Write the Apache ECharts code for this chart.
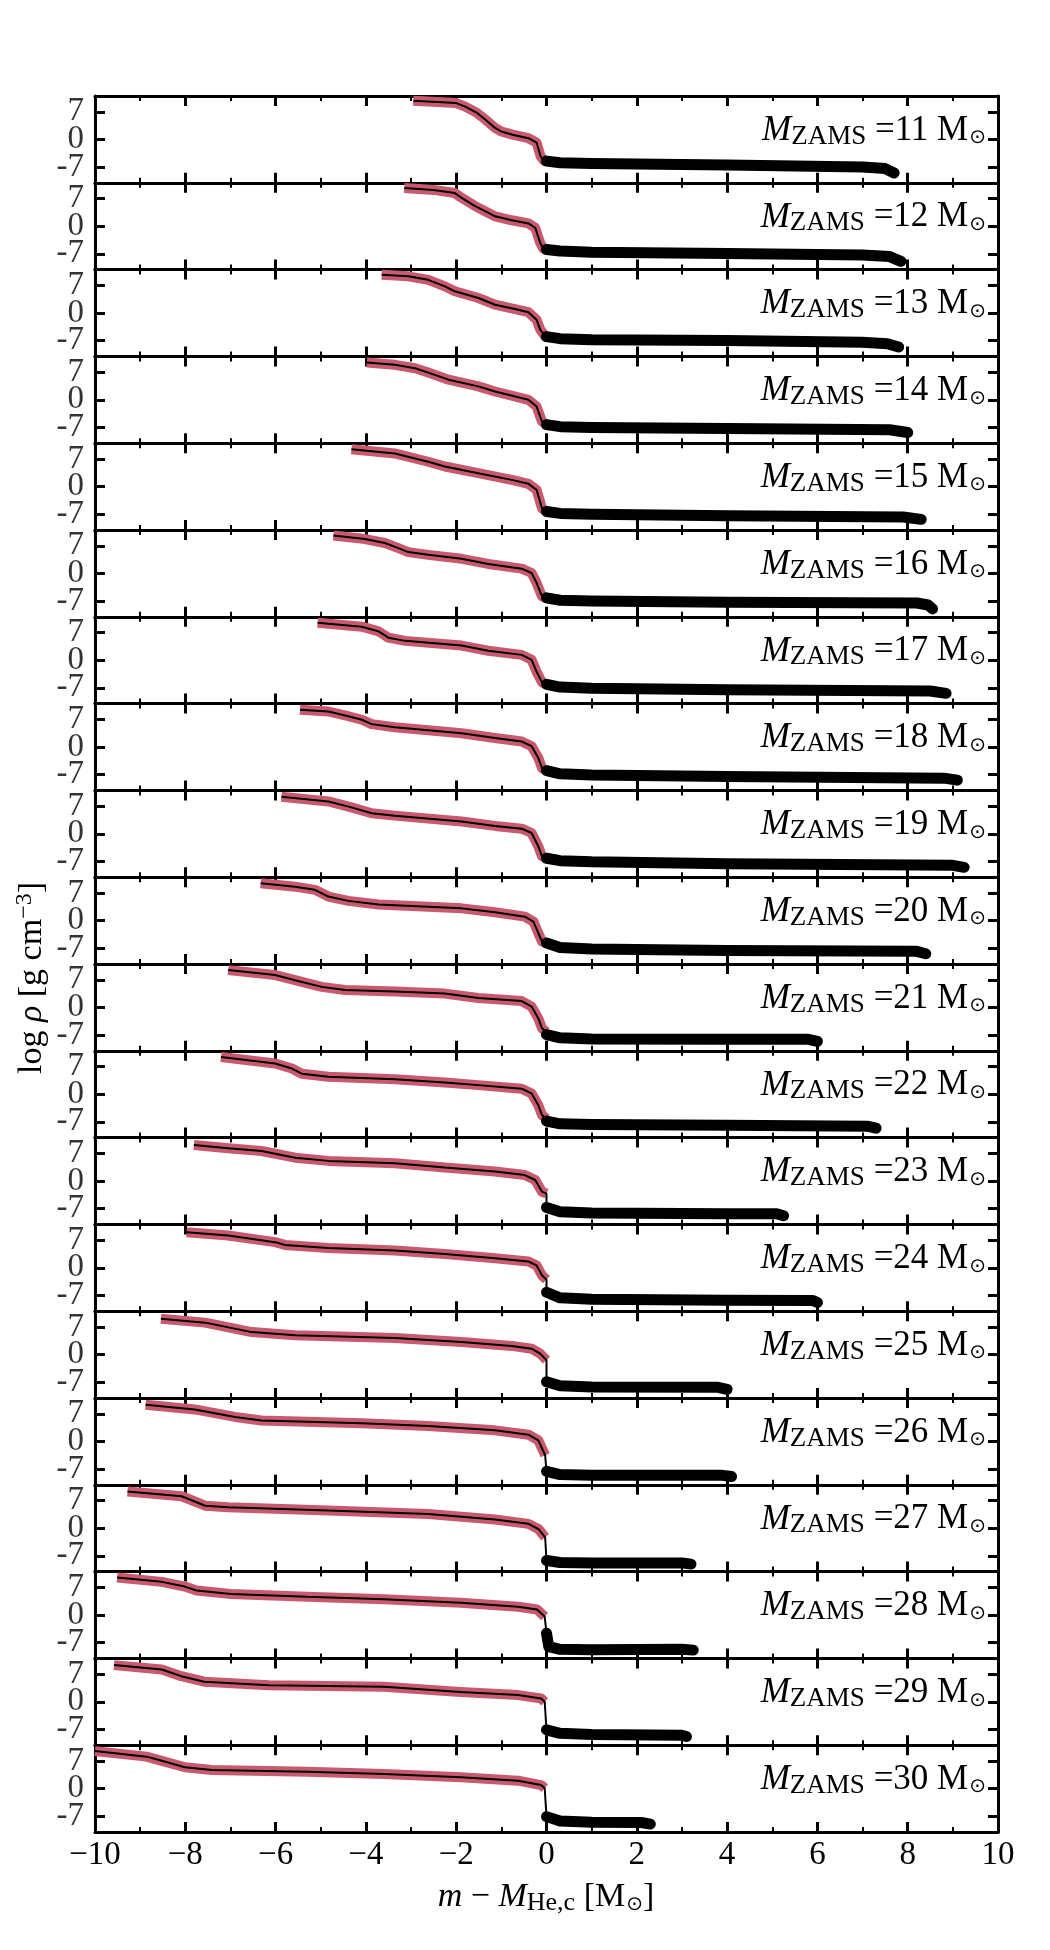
<!DOCTYPE html>
<html>
<head>
<meta charset="utf-8">
<style>
html, body { margin: 0; padding: 0; background: #fff; }
#main { width: 1050px; height: 1950px; }
</style>
<script src="https://cdn.jsdelivr.net/npm/echarts@6/dist/echarts.min.js"></script>
</head>
<body>
<div id="main"></div>
<script>
// ZAMS masses, one panel each
var massList = [11, 12, 13, 14, 15, 16, 17, 18, 19, 20, 21, 22, 23, 24, 25, 26, 27, 28, 29, 30];
var xTickValues = [-10, -8, -6, -4, -2, 0, 2, 4, 6, 8, 10];
var xTickLabels = ['\u221210', '\u22128', '\u22126', '\u22124', '\u22122', '0', '2', '4', '6', '8', '10'];
// y scale steps of one panel (bottom to top), ticks only at -7, 0, 7
var yScaleSteps = ['-11', '-10', '-9', '-8', '-7', '-6', '-5', '-4', '-3', '-2', '-1', '0',
                   '1', '2', '3', '4', '5', '6', '7', '8', '9', '10', '11'];
var yTickValues = [-7, 0, 7];
var yTickLabels = ['-7', '0', '7'];

// [m - M_He,c, log rho] : core (red) and envelope (thick black)
var core11 = [[-2.95,9.8],[-2.0,9.2],[-1.8,8.3],[-1.55,6.8],[-1.35,5.0],[-1.15,3.0],[-1.0,2.0],[-0.75,1.2],[-0.4,0.3],[-0.22,-0.8],[-0.13,-4.3],[-0.05,-5.4],[0,-5.5]];
var env11 = [[0,-5.5],[0.3,-5.9],[1,-6.1],[4,-6.5],[7,-7.0],[7.5,-7.4],[7.7,-8.5]];
var core12 = [[-3.15,9.7],[-2.5,9.2],[-2.03,8.4],[-1.88,7.2],[-1.58,5.1],[-1.36,3.8],[-1.14,2.5],[-0.77,1.5],[-0.4,0.7],[-0.25,-0.4],[-0.14,-4.2],[-0.07,-5.7],[0,-5.9]];
var env12 = [[0,-5.9],[0.3,-6.3],[1,-6.6],[4,-6.9],[7,-7.3],[7.6,-7.7],[7.85,-8.9]];
var core13 = [[-3.65,9.7],[-3.06,9.3],[-2.62,8.4],[-2.25,6.75],[-2.03,5.5],[-1.51,3.8],[-1.14,2.1],[-0.7,1.0],[-0.4,0.2],[-0.22,-1.7],[-0.14,-4.2],[-0.03,-5.9],[0,-6.0]];
var env13 = [[0,-6.0],[0.3,-6.5],[1,-6.8],[4,-7.0],[7,-7.4],[7.55,-7.8],[7.8,-8.6]];
var core14 = [[-3.98,9.45],[-3.36,8.86],[-2.91,8.0],[-2.62,6.9],[-2.17,5.1],[-1.51,3.4],[-1.14,2.1],[-0.4,0],[-0.22,-1.7],[-0.1,-5.5],[0,-6.3]];
var env14 = [[0,-6.3],[0.3,-6.8],[1,-7.0],[4,-7.3],[7.6,-7.6],[8.0,-8.3]];
var core15 = [[-4.32,9.45],[-3.36,8.4],[-2.62,6.3],[-2.25,5.1],[-1.51,3.4],[-0.77,1.7],[-0.4,0.7],[-0.22,-0.8],[-0.1,-5.5],[0,-6.3]];
var env15 = [[0,-6.3],[0.3,-6.8],[1,-7.0],[4,-7.4],[7.9,-7.7],[8.3,-8.3]];
var core16 = [[-4.72,9.6],[-4.02,8.7],[-3.58,7.7],[-3.28,6.4],[-3.06,5.4],[-2.62,4.7],[-1.88,3.7],[-1.29,2.4],[-0.55,1.2],[-0.33,0.1],[-0.22,-2.4],[-0.1,-5.8],[0,-6.2]];
var env16 = [[0,-6.2],[0.3,-6.8],[1,-7.0],[4,-7.3],[8.2,-7.5],[8.45,-8.0],[8.55,-9.0]];
var core17 = [[-5.07,9.5],[-4.09,8.5],[-3.72,7.3],[-3.5,5.7],[-3.13,4.9],[-1.88,3.7],[-1.29,2.4],[-0.55,1.35],[-0.33,0.1],[-0.22,-2.9],[-0.1,-5.6],[0,-6.1]];
var env17 = [[0,-6.1],[0.3,-6.8],[1,-7.1],[4,-7.5],[8.5,-7.8],[8.85,-8.4]];
var core18 = [[-5.46,9.45],[-4.83,9.0],[-4.39,7.8],[-4.09,6.9],[-3.87,5.8],[-3.36,5.0],[-1.88,3.5],[-1.14,2.3],[-0.55,1.4],[-0.33,0.2],[-0.18,-2.8],[-0.1,-5.3],[0,-6.0]];
var env18 = [[0,-6.0],[0.3,-6.8],[1,-7.1],[4,-7.5],[8.8,-7.9],[9.1,-8.4]];
var core19 = [[-5.87,9.4],[-4.83,8.2],[-4.32,6.7],[-3.87,5.2],[-3.36,4.6],[-1.88,3.1],[-1.14,2.0],[-0.55,1.3],[-0.33,0.2],[-0.18,-3.2],[-0.1,-5.7],[0,-6.2]];
var env19 = [[0,-6.2],[0.3,-6.8],[1,-7.1],[4,-7.6],[9.0,-8.0],[9.25,-8.5]];
var core20 = [[-6.33,9.45],[-5.57,8.6],[-5.13,7.8],[-4.83,6.1],[-4.39,5.0],[-3.72,4.1],[-2.62,3.5],[-1.88,3.1],[-1.14,2.1],[-0.48,1.0],[-0.29,-0.25],[-0.18,-3.2],[-0.1,-5.3],[0,-5.7]];
var env20 = [[0,-5.7],[0.3,-6.8],[1,-7.2],[4,-7.6],[8.2,-7.8],[8.4,-8.4]];
var core21 = [[-7.05,9.45],[-6.01,8.2],[-5.57,6.9],[-4.98,5.2],[-4.46,4.4],[-3.36,4.0],[-2.25,3.5],[-1.51,2.4],[-0.55,1.6],[-0.33,0.2],[-0.18,-2.8],[-0.1,-5.3],[0,-6.2]];
var env21 = [[0,-6.9],[0.3,-7.7],[1,-8.0],[4,-8.1],[5.8,-8.1],[6.0,-8.6]];
var core22 = [[-7.21,9.45],[-6.01,7.8],[-5.64,6.5],[-5.42,5.2],[-4.83,4.4],[-3.36,3.8],[-2.25,2.95],[-1.51,2.3],[-0.55,1.4],[-0.33,0.2],[-0.18,-2.8],[-0.1,-5.3],[0,-6.2]];
var env22 = [[0,-6.8],[0.3,-7.5],[1,-7.7],[4,-7.9],[7.1,-8.1],[7.3,-8.6]];
var core23 = [[-7.81,9.1],[-7.05,8.3],[-6.31,7.6],[-5.57,5.9],[-4.83,5.1],[-3.36,4.5],[-2.25,3.4],[-1.14,2.4],[-0.48,1.5],[-0.25,0.25],[-0.1,-2.7],[0,-3.2]];
var env23 = [[0,-6.7],[0.3,-7.8],[1,-8.1],[4,-8.3],[5.1,-8.3],[5.25,-8.8]];
var core24 = [[-7.97,9.0],[-7.05,8.2],[-6.01,6.5],[-5.79,5.8],[-4.83,5.0],[-3.36,4.4],[-2.25,3.5],[-1.14,2.4],[-0.4,1.6],[-0.22,0.6],[-0.1,-1.9],[0,-3.0]];
var env24 = [[0,-6.2],[0.3,-7.6],[1,-8.0],[4,-8.2],[5.9,-8.3],[6.0,-8.8]];
var core25 = [[-8.54,9.1],[-7.56,8.1],[-6.53,5.7],[-5.57,4.9],[-3.36,4.2],[-1.88,3.2],[-0.77,2.2],[-0.33,1.5],[-0.14,0.25],[0,-1.4]];
var env25 = [[0,-6.9],[0.3,-7.9],[1,-8.2],[3.8,-8.3],[4.0,-8.8]];
var core26 = [[-8.88,9.3],[-7.79,8.1],[-6.9,6.2],[-6.31,5.3],[-4.09,4.6],[-2.62,3.9],[-1.14,2.8],[-0.4,1.7],[-0.18,0.25],[-0.03,-3.5]];
var env26 = [[0,-7.6],[0.3,-8.4],[1,-8.6],[3.9,-8.6],[4.1,-8.9]];
var core27 = [[-9.28,9.3],[-8.08,8.1],[-7.56,5.7],[-7.05,5.3],[-4.83,4.5],[-2.62,3.6],[-1.14,2.2],[-0.4,1.1],[-0.18,-0.2],[-0.03,-2.3]];
var env27 = [[0,-8.2],[0.3,-8.7],[1,-8.8],[3.0,-8.8],[3.2,-9.1]];
var core28 = [[-9.51,9.5],[-8.52,8.4],[-8.01,7.2],[-7.75,6.2],[-6.99,5.3],[-5.3,4.6],[-3.6,4.0],[-1.9,3.1],[-0.63,2.1],[-0.21,1.4],[-0.04,-0.4]];
var env28 = [[0,-4.6],[0.05,-8.0],[0.3,-8.7],[1,-8.8],[3.0,-8.7],[3.25,-8.9]];
var core29 = [[-9.58,9.3],[-8.52,8.2],[-8.09,6.5],[-7.58,5.1],[-6.14,4.2],[-3.6,3.8],[-1.9,2.5],[-0.63,1.7],[-0.12,0.85],[-0.04,0]];
var env29 = [[0,-7.1],[0.3,-8.0],[1,-8.3],[3,-8.5],[3.1,-8.8]];
var core30 = [[-10.0,9.5],[-8.86,8.1],[-8.6,7.3],[-8.01,5.4],[-7.41,4.7],[-5.3,4.3],[-3.6,3.7],[-1.9,2.9],[-0.63,2.0],[-0.12,0.9],[-0.04,0.1]];
var env30 = [[0,-7.1],[0.3,-8.2],[1,-8.5],[2.1,-8.6],[2.3,-9.0]];

var coreList = [core11, core12, core13, core14, core15, core16, core17, core18, core19, core20,
                core21, core22, core23, core24, core25, core26, core27, core28, core29, core30];
var envList = [env11, env12, env13, env14, env15, env16, env17, env18, env19, env20,
               env21, env22, env23, env24, env25, env26, env27, env28, env29, env30];

var chart = echarts.init(document.getElementById('main'));

var plotTop = 96, panelH = 86.8, plotLeft = 95, plotRight = 52;
var serif = '"Liberation Serif", "Times New Roman", serif';
var red = '#c95a6e';

function isYTick(index, value) {
    return yTickLabels.indexOf(String(value)) >= 0;
}

function xAxisFor(i, pos, labels) {
    return {
        gridIndex: i, type: 'value', position: pos, min: -10, max: 10, interval: 2,
        axisLine: { show: true, onZero: false, lineStyle: { color: '#000', width: 3 } },
        axisTick: { show: true, inside: true, length: 10, lineStyle: { color: '#000', width: 3 } },
        minorTick: { show: true, splitNumber: 2, length: 5, lineStyle: { color: '#000', width: 2 } },
        splitLine: { show: false },
        axisLabel: {
            show: labels, margin: 7, color: '#000', fontFamily: serif, fontSize: 33,
            formatter: function (v) { return xTickLabels[xTickValues.indexOf(v)]; }
        }
    };
}

// tick axis on the panel sides (category steps so only -7, 0, 7 get marks)
function yTickAxisFor(i, pos) {
    return {
        gridIndex: i, type: 'category', position: pos, data: yScaleSteps, boundaryGap: false,
        axisLine: { show: true, onZero: false, lineStyle: { color: '#000', width: 3 } },
        axisTick: { show: true, inside: true, length: 10, interval: isYTick,
                    lineStyle: { color: '#000', width: 3 } },
        splitLine: { show: false },
        axisLabel: { show: false }
    };
}

var grids = [], xAxes = [], yAxes = [], series = [], titles = [];

massList.forEach(function (m, i) {
    var top = plotTop + i * panelH;
    var last = i === massList.length - 1;
    grids.push({ left: plotLeft, right: plotRight, top: top, height: panelH, show: false });
    xAxes.push(xAxisFor(i, 'bottom', last));
    xAxes.push(xAxisFor(i, 'top', false));
    // data axis, hidden
    yAxes.push({ gridIndex: i, type: 'value', min: -11, max: 11, show: false });
    yAxes.push(yTickAxisFor(i, 'left'));
    yAxes.push(yTickAxisFor(i, 'right'));

    var core = coreList[i], env = envList[i];
    series.push({
        type: 'line', xAxisIndex: 2 * i, yAxisIndex: 3 * i, data: core,
        symbol: 'none', silent: true, z: 2,
        lineStyle: { color: red, width: 10, join: 'round' }
    });
    series.push({
        type: 'line', xAxisIndex: 2 * i, yAxisIndex: 3 * i, data: env,
        symbol: 'none', silent: true, z: 3,
        lineStyle: { color: '#000', width: 11, cap: 'round', join: 'round' }
    });
    series.push({
        type: 'line', xAxisIndex: 2 * i, yAxisIndex: 3 * i, data: core.concat(env),
        symbol: 'none', silent: true, z: 4,
        lineStyle: { color: '#000', width: 2 }
    });
    // y tick labels, placed through the panel's y scale at its left edge
    series.push({
        type: 'scatter', xAxisIndex: 2 * i, yAxisIndex: 3 * i, silent: true, z: 5,
        symbolSize: 0, clip: false,
        data: yTickValues.map(function (v) { return [-10, v]; }),
        label: {
            show: true, position: 'left', distance: 11, color: '#000',
            fontFamily: serif, fontSize: 33,
            formatter: function (p) { return yTickLabels[yTickValues.indexOf(p.value[1])]; }
        }
    });

    titles.push({
        text: '{i|M}{s|ZAMS}{n| =' + m + ' M}{o|\u2299}',
        right: 64, top: top + 17, padding: 0,
        textStyle: {
            fontWeight: 'normal',
            rich: {
                i: { fontFamily: serif, fontStyle: 'italic', fontSize: 35, lineHeight: 35, color: '#000', verticalAlign: 'middle' },
                s: { fontFamily: serif, fontSize: 27, lineHeight: 27, padding: [12, 0, 0, 0], color: '#000', verticalAlign: 'middle' },
                n: { fontFamily: serif, fontSize: 35, lineHeight: 35, color: '#000', verticalAlign: 'middle' },
                o: { fontFamily: '"DejaVu Sans"', fontSize: 20, lineHeight: 20, padding: [15, 0, 0, 1], color: '#000', verticalAlign: 'middle' }
            }
        }
    });
});

var option = {
    animation: false,
    backgroundColor: '#fff',
    title: titles,
    grid: grids,
    xAxis: xAxes,
    yAxis: yAxes,
    series: series,
    graphic: {
        elements: [
            {
                type: 'text', x: 546, y: 1897, silent: true,
                style: {
                    text: '{i|m}{n| \u2212 }{i|M}{s|He,c}{n| [M}{o|\u2299}{n|]}',
                    align: 'center', verticalAlign: 'middle',
                    rich: {
                        i: { fontFamily: serif, fontStyle: 'italic', fontSize: 34, lineHeight: 34, fill: '#000', verticalAlign: 'middle' },
                        n: { fontFamily: serif, fontSize: 34, lineHeight: 34, fill: '#000', verticalAlign: 'middle' },
                        s: { fontFamily: serif, fontSize: 26, lineHeight: 26, padding: [12, 0, 0, 0], fill: '#000', verticalAlign: 'middle' },
                        o: { fontFamily: '"DejaVu Sans"', fontSize: 20, lineHeight: 20, padding: [15, 0, 0, 1], fill: '#000', verticalAlign: 'middle' }
                    }
                }
            },
            {
                type: 'text', x: 32, y: 978, rotation: Math.PI / 2, silent: true,
                style: {
                    text: '{n|log }{i|\u03c1}{n| [g cm}{p|\u22123}{n|]}',
                    align: 'center', verticalAlign: 'middle',
                    rich: {
                        i: { fontFamily: serif, fontStyle: 'italic', fontSize: 34, lineHeight: 34, fill: '#000', verticalAlign: 'middle' },
                        n: { fontFamily: serif, fontSize: 34, lineHeight: 34, fill: '#000', verticalAlign: 'middle' },
                        p: { fontFamily: serif, fontSize: 24, lineHeight: 24, padding: [0, 0, 14, 0], fill: '#000', verticalAlign: 'middle' }
                    }
                }
            }
        ]
    }
};

chart.setOption(option);
</script>
</body>
</html>
